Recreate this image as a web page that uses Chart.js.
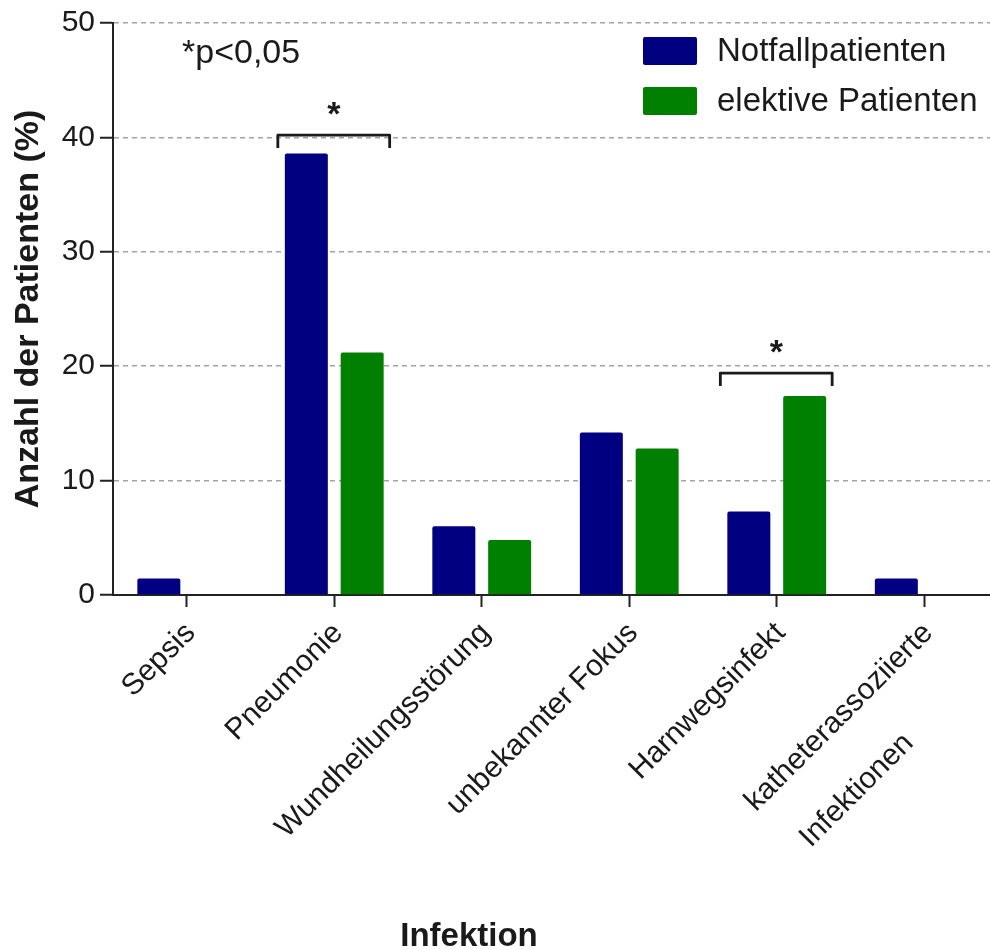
<!DOCTYPE html>
<html>
<head>
<meta charset="utf-8">
<script src="https://cdn.jsdelivr.net/npm/chart.js@4/dist/chart.umd.min.js"></script>
<style>
  html, body { margin: 0; padding: 0; background: #ffffff; overflow: hidden; }
  #wrap { width: 1000px; height: 950px; }
</style>
</head>
<body>
<div id="wrap"><canvas id="chart" width="1000" height="950"></canvas></div>
<script>
// Infection sites, share of patients (%) per group
const categories = [
  'Sepsis',
  'Pneumonie',
  'Wundheilungsstörung',
  'unbekannter Fokus',
  'Harnwegsinfekt',
  ['katheterassoziierte', '', 'Infektionen' + '\u00A0'.repeat(11)]
];
const seriesNames = ['Notfallpatienten', 'elektive Patienten'];
const notfallpatienten = [1.45, 38.6, 6.0, 14.2, 7.3, 1.45];
const elektivePatienten = [0, 21.2, 4.8, 12.8, 17.4, 0];

// Value axis
const yMin = 0;
const yMax = 50;
const yStep = 10;

// Significant differences: category index and bracket height (in %)
const significance = [
  { index: 1, level: 40.2, mark: '*' },
  { index: 4, level: 19.4, mark: '*' }
];
const pNote = '*p<0,05';
const yTitle = 'Anzahl der Patienten (%)';
const xTitle = 'Infektion';

const FONT = '"Liberation Sans", Arial, Helvetica, sans-serif';
const INK = '#1a1a1a';
const NAVY = '#000080';
const GREEN = '#008000';

// Notes, brackets, legend and x title drawn on top of the bars
const overlay = {
  id: 'overlay',
  afterDatasetsDraw(chart) {
    const { ctx, chartArea: a, scales: { y } } = chart;
    const m0 = chart.getDatasetMeta(0);
    const m1 = chart.getDatasetMeta(1);
    ctx.save();
    ctx.fillStyle = INK;
    ctx.strokeStyle = INK;

    // significance note
    ctx.font = '34px ' + FONT;
    ctx.textAlign = 'left';
    ctx.textBaseline = 'alphabetic';
    ctx.fillText(pNote, a.left + 69, a.top + 40);

    // brackets with stars
    significance.forEach(s => {
      const b0 = m0.data[s.index];
      const b1 = m1.data[s.index];
      const xl = b0.x - b0.width / 2 - 7;
      const xr = b1.x + b1.width / 2 + 6;
      const yt = y.getPixelForValue(s.level);
      ctx.lineWidth = 2.8;
      ctx.lineJoin = 'round';
      ctx.beginPath();
      ctx.moveTo(xl, yt + 13);
      ctx.lineTo(xl, yt);
      ctx.lineTo(xr, yt);
      ctx.lineTo(xr, yt + 13);
      ctx.stroke();
      ctx.font = 'bold 34px ' + FONT;
      ctx.textAlign = 'center';
      ctx.fillText(s.mark, (xl + xr) / 2, yt - 10);
    });

    // legend
    ctx.font = '33px ' + FONT;
    ctx.textAlign = 'left';
    ctx.textBaseline = 'middle';
    chart.data.datasets.forEach((ds, i) => {
      const bx = a.right - 355;
      const by = a.top + 14 + i * 50;
      ctx.fillStyle = ds.backgroundColor;
      ctx.beginPath();
      ctx.roundRect(bx, by, 54, 28, 2);
      ctx.fill();
      ctx.fillStyle = INK;
      ctx.fillText(ds.label, bx + 74, by + 15);
    });

    // x axis title
    ctx.font = 'bold 33px ' + FONT;
    ctx.textAlign = 'center';
    ctx.textBaseline = 'middle';
    ctx.fillText(xTitle, 469, 937);
    ctx.restore();
  }
};

new Chart(document.getElementById('chart'), {
  type: 'bar',
  data: {
    labels: categories,
    datasets: [
      {
        label: seriesNames[0],
        data: notfallpatienten,
        backgroundColor: NAVY,
        borderWidth: 0,
        borderRadius: 2,
        categoryPercentage: 0.757,
        barPercentage: 0.77
      },
      {
        label: seriesNames[1],
        data: elektivePatienten,
        backgroundColor: GREEN,
        borderWidth: 0,
        borderRadius: 2,
        categoryPercentage: 0.757,
        barPercentage: 0.77
      }
    ]
  },
  options: {
    responsive: false,
    animation: false,
    devicePixelRatio: 1,
    layout: { padding: { top: 23, right: 2, bottom: 0, left: 0 } },
    plugins: {
      legend: { display: false },
      tooltip: { enabled: false }
    },
    scales: {
      x: {
        offset: true,
        grid: {
          offset: false,
          drawOnChartArea: false,
          drawTicks: true,
          tickLength: 12,
          tickColor: '#222222',
          tickWidth: 2
        },
        border: { display: true, color: '#222222', width: 2 },
        ticks: {
          autoSkip: false,
          minRotation: 45,
          maxRotation: 45,
          padding: 10,
          labelOffset: 4,
          color: INK,
          font: { family: FONT, size: 30, lineHeight: 1.07 }
        },
        afterFit(scale) {
          scale.height = 355;
          scale.paddingLeft = 0;
          scale.paddingRight = 0;
        }
      },
      y: {
        min: yMin,
        max: yMax,
        grid: {
          color: ctx => (ctx.tick && ctx.tick.value === yMin ? 'rgba(0,0,0,0)' : '#a3a3a3'),
          lineWidth: 1.5,
          tickLength: 13,
          tickColor: '#222222',
          tickWidth: 2
        },
        border: { display: true, color: '#222222', width: 2, dash: [5, 4] },
        ticks: {
          stepSize: yStep,
          padding: 5,
          color: INK,
          font: { family: FONT, size: 30 }
        },
        title: {
          display: true,
          text: yTitle,
          color: INK,
          font: { family: FONT, size: 34, weight: 'bold' },
          padding: { top: 8, bottom: 0 }
        },
        afterFit(scale) { scale.width = 113; }
      }
    }
  },
  plugins: [overlay]
});
</script>
</body>
</html>
